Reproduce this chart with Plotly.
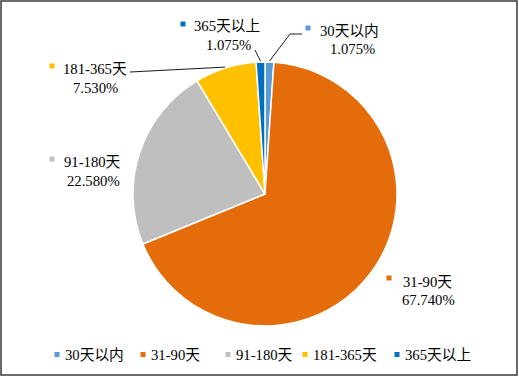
import math
import plotly.graph_objects as go

# ---- data ----
categories = ["30天以内", "31-90天", "91-180天", "181-365天", "365天以上"]
shares = [1.075, 67.740, 22.580, 7.530, 1.075]
pct_labels = ["1.075%", "67.740%", "22.580%", "7.530%", "1.075%"]
colors = ["#5B9BD5", "#E46C0A", "#BFBFBF", "#FFC000", "#0070C0"]

# ---- layout constants (pixels) ----
W, H = 519, 377
CX, CY, R = 265, 194, 132
FONT = "'Liberation Serif', 'Noto Sans CJK SC', serif"
FS = 14.7
TXT = "#000000"

def px(x):
    return x / W

def py(y):
    return 1 - y / H

# label placement: (line1 center x, line1 y, line2 center x, line2 y, marker x, marker y, leader points after slice edge)
label_layout = {
    "30天以内": (349, 31, 352, 49, 308, 28, [(290, 34), (302, 34)]),
    "31-90天": (427, 282, 428, 300, 389, 278, None),
    "91-180天": (92, 162, 93, 181, 52, 159, None),
    "181-365天": (95, 69, 95, 88, 52, 66, [(130, 72)]),
    "365天以上": (227, 26, 228, 45, 183, 24, [(255, 50)]),
}

fig = go.Figure()
fig.add_trace(go.Pie(
    labels=categories,
    values=shares,
    sort=False,
    direction="clockwise",
    rotation=0,
    textinfo="none",
    hoverinfo="label+percent",
    marker=dict(colors=colors, line=dict(color="white", width=1.5)),
    domain=dict(x=[px(CX - R), px(CX + R)], y=[py(CY + R), py(CY - R)]),
    showlegend=False,
))

shapes = []
annotations = []

# chart border
shapes.append(dict(type="rect", xref="paper", yref="paper",
                   x0=px(1), x1=px(517), y0=py(375), y1=py(1),
                   line=dict(color="#3a3a3a", width=1.5)))

total = sum(shares)
cum = 0.0
for cat, val, pl, col in zip(categories, shares, pct_labels, colors):
    mid = (cum + val / 2) / total * 2 * math.pi
    cum += val
    l1x, l1y, l2x, l2y, mx, my, leader = label_layout[cat]
    annotations.append(dict(xref="paper", yref="paper", x=px(l1x), y=py(l1y),
                            text=cat, showarrow=False, xanchor="center", yanchor="middle",
                            font=dict(family=FONT, size=FS, color=TXT)))
    annotations.append(dict(xref="paper", yref="paper", x=px(l2x), y=py(l2y),
                            text=pl, showarrow=False, xanchor="center", yanchor="middle",
                            font=dict(family=FONT, size=FS, color=TXT)))
    shapes.append(dict(type="rect", xref="paper", yref="paper",
                       x0=px(mx - 2.5), x1=px(mx + 2.5), y0=py(my + 2.5), y1=py(my - 2.5),
                       fillcolor=col, line=dict(width=0)))
    if leader:
        sx = CX + (R + 1) * math.sin(mid)
        sy = CY - (R + 1) * math.cos(mid)
        pts = [(sx, sy)] + leader
        for (ax, ay), (bx, by) in zip(pts[:-1], pts[1:]):
            shapes.append(dict(type="line", xref="paper", yref="paper",
                               x0=px(ax), y0=py(ay), x1=px(bx), y1=py(by),
                               line=dict(color="#1a1a1a", width=1)))

# legend (bottom)
legend_marker_x = [57, 143, 228, 305, 397]
LEG_Y = 355
for cat, col, lx in zip(categories, colors, legend_marker_x):
    shapes.append(dict(type="rect", xref="paper", yref="paper",
                       x0=px(lx - 2.5), x1=px(lx + 2.5), y0=py(LEG_Y + 2), y1=py(LEG_Y - 3),
                       fillcolor=col, line=dict(width=0)))
    annotations.append(dict(xref="paper", yref="paper", x=px(lx + 6), y=py(LEG_Y),
                            text=cat, showarrow=False, xanchor="left", yanchor="middle",
                            font=dict(family=FONT, size=FS, color=TXT)))

fig.update_layout(
    width=W, height=H,
    margin=dict(l=0, r=0, t=0, b=0),
    paper_bgcolor="white",
    plot_bgcolor="white",
    shapes=shapes,
    annotations=annotations,
)

fig.write_html("out.html",
               config={"displayModeBar": False},
               post_script="document.body.style.margin='0';document.body.style.overflow='hidden';")
